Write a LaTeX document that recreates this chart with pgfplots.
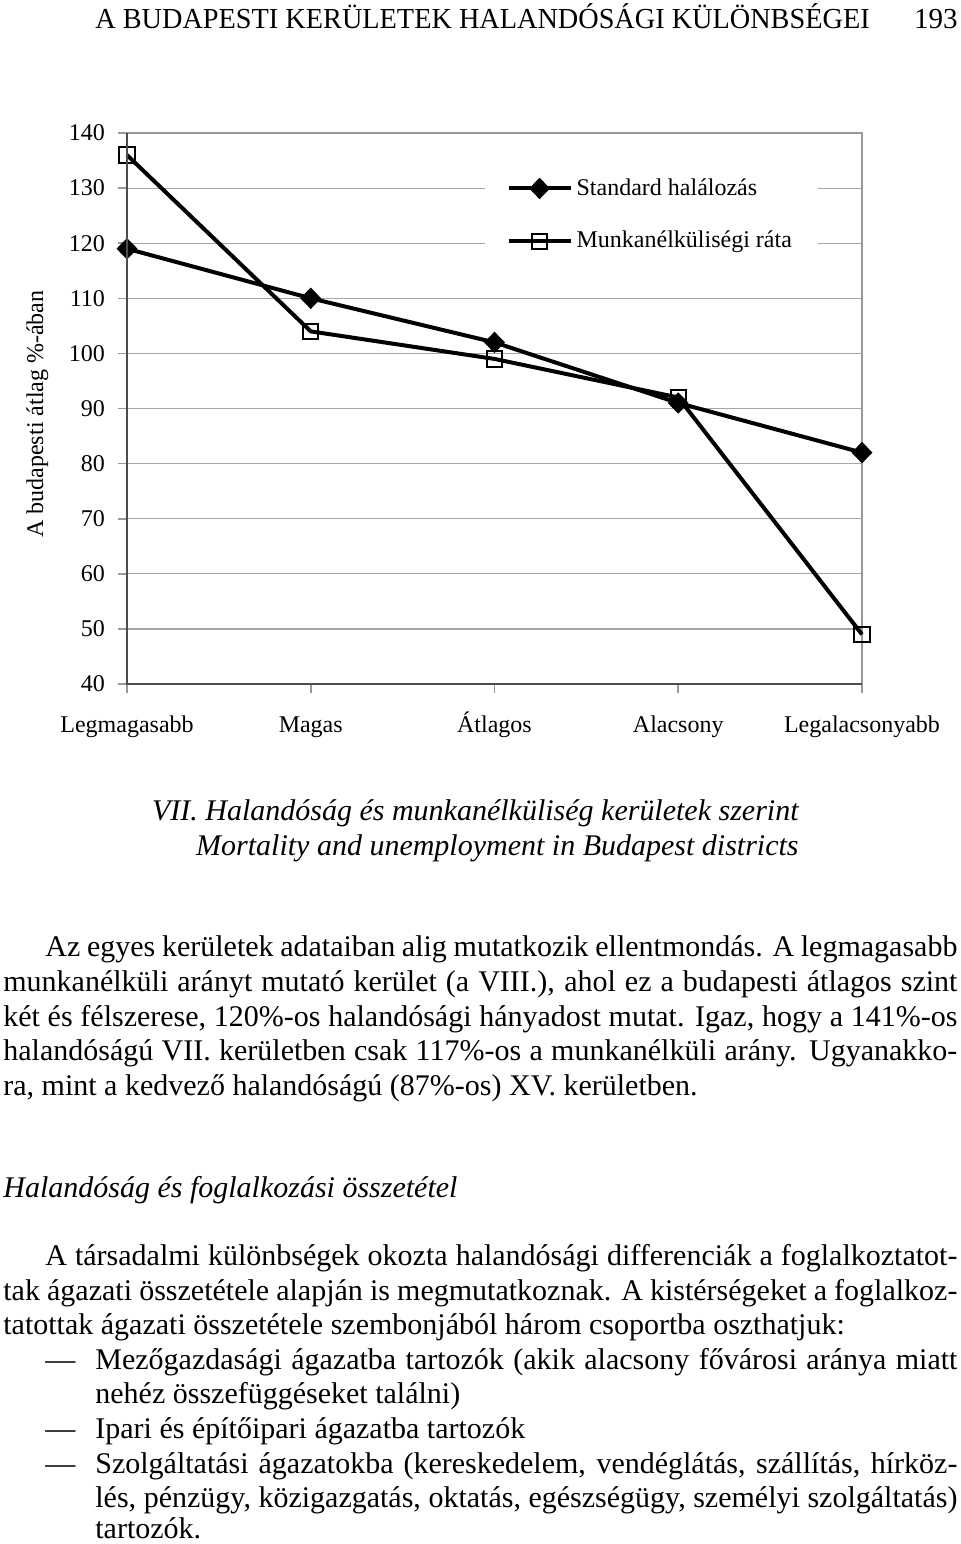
\documentclass[border=0pt]{standalone}
\usepackage{fontspec}
\setmainfont{Liberation Serif}
\usepackage{pgfplots}
\pgfplotsset{compat=1.18}

% body text: one node per printed line, stretched to the column
\newcommand\bodyfont{\fontsize{15}{17.4}\selectfont}
\newcommand\jl[3]{\node[anchor=base west,inner sep=0pt] at (#1) {\bodyfont\makebox[#2][s]{#3}};}
\newcommand\nl[2]{\node[anchor=base west,inner sep=0pt] at (#1) {\bodyfont #2};}

\begin{document}
\begin{tikzpicture}
\begin{scope}[x=0.5pt,y=-0.5pt]
\path[use as bounding box] (0,0) rectangle (960,1544);
\end{scope}

\begin{axis}[
  at={(63.5pt,-342pt)}, anchor=south west, scale only axis,
  width=367.5pt, height=275.5pt,
  xmin=0, xmax=4, ymin=40, ymax=140, clip=false,
  xtick={0,...,4},
  xticklabels={Legmagasabb,Magas,Átlagos,Alacsony,Legalacsonyabb},
  ytick={40,50,...,140},
  ymajorgrids, grid style={gray!70,line width=0.6pt},
  axis line style={gray!80,line width=0.8pt},
  tick align=outside, major tick length=4.5pt,
  tick style={gray!80,line width=0.8pt},
  xtick pos=bottom, ytick pos=left,
  font=\fontsize{12}{14}\selectfont,
  /pgf/number format/assume math mode=true,
  yticklabel style={xshift=-3pt},
  xticklabel style={yshift=-7pt,text height=9pt,text depth=3pt},
  ylabel={A budapesti átlag \%-ában},
  ylabel style={at={(axis description cs:-0.122,0.49)},anchor=center},
  legend style={at={(0.486,0.947)},anchor=north west,draw=none,fill=white,
    inner xsep=11pt,inner ysep=6pt,row sep=12.5pt,font=\fontsize{12}{14}\selectfont},
  legend cell align=left,
  legend image code/.code={\draw[mark repeat=2,mark phase=2]
    plot coordinates {(0pt,0pt)(15.5pt,0pt)(31pt,0pt)};},
  after end axis/.code={\draw[black!70,line width=0.9pt]
    (rel axis cs:0,1)--(rel axis cs:0,0)--(rel axis cs:1,0);},
]
\addplot[black,line width=2pt,mark=diamond*,mark size=5pt,
  mark options={solid,line width=0.5pt,xscale=1.3}]
  coordinates {(0,119) (1,110) (2,102) (3,91) (4,82)};
\addlegendentry{Standard halálozás}
\addplot[black,line width=2pt,mark=square,mark size=3.8pt,
  mark options={solid,line width=1pt}]
  coordinates {(0,136) (1,104) (2,99) (3,92) (4,49)};
\addlegendentry{Munkanélküliségi ráta}
\end{axis}

\begin{scope}[x=0.5pt,y=-0.5pt]
% running head
\node[anchor=base west,inner sep=0pt] at (95,28)
  {\fontsize{14.5}{17}\selectfont\scalebox{0.975}[1]{A BUDAPESTI KERÜLETEK HALANDÓSÁGI KÜLÖNBSÉGEI}};
\node[anchor=base east,inner sep=0pt] at (958,28)
  {\fontsize{14.5}{17}\selectfont 193};

% caption
\node[anchor=base east,inner sep=0pt] at (799,820)
  {\bodyfont\itshape VII. Halandóság és munkanélküliség kerületek szerint};
\node[anchor=base east,inner sep=0pt] at (799,855)
  {\bodyfont\itshape Mortality and unemployment in Budapest districts};

% first paragraph
\jl{45,956}{456pt}{Az egyes kerületek adataiban alig mutatkozik ellentmondás. A legmagasabb}
\jl{3,991}{477pt}{munkanélküli arányt mutató kerület (a VIII.), ahol ez a budapesti átlagos szint}
\jl{3,1026}{477pt}{két és félszerese, 120\%-os halandósági hányadost mutat. Igaz, hogy a 141\%-os}
\jl{3,1060}{477pt}{halandóságú VII. kerületben csak 117\%-os a munkanélküli arány. Ugyanakko-}
\nl{3,1095}{ra, mint a kedvező halandóságú (87\%-os) XV. kerületben.}

% section title
\nl{3,1197}{\itshape Halandóság és foglalkozási összetétel}

% second paragraph
\jl{45,1265}{456pt}{A társadalmi különbségek okozta halandósági differenciák a foglalkoztatot-}
\jl{3,1300}{477pt}{tak ágazati összetétele alapján is megmutatkoznak. A kistérségeket a foglalkoz-}
\nl{3,1334}{tatottak ágazati összetétele szembonjából három csoportba oszthatjuk:}

% list
\nl{45,1369}{—}
\jl{95,1369}{431pt}{Mezőgazdasági ágazatba tartozók (akik alacsony fővárosi aránya miatt}
\nl{95,1403}{nehéz összefüggéseket találni)}
\nl{45,1438}{—}
\nl{95,1438}{Ipari és építőipari ágazatba tartozók}
\nl{45,1473}{—}
\jl{95,1473}{431pt}{Szolgáltatási ágazatokba (kereskedelem, vendéglátás, szállítás, hírköz-}
\jl{95,1507}{431pt}{lés, pénzügy, közigazgatás, oktatás, egészségügy, személyi szolgáltatás)}
\nl{95,1538}{tartozók.}
\end{scope}
\end{tikzpicture}
\end{document}
